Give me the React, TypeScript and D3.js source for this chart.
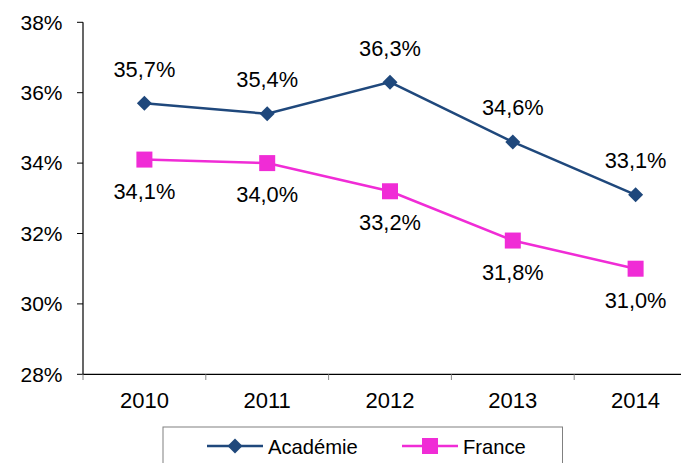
import React from "react";
import * as d3 from "d3";

const years = ["2010", "2011", "2012", "2013", "2014"];
const academie = [35.7, 35.4, 36.3, 34.6, 33.1];
const france = [34.1, 34.0, 33.2, 31.8, 31.0];
const yTicks = [28, 30, 32, 34, 36, 38];
const seriesNames = ["Académie", "France"];

const W = 681;
const H = 463;
const FONT = "'Liberation Sans', Arial, sans-serif";
const BLUE = "#1F487C";
const PINK = "#F02CD6";

export default function App() {
  const x = d3.scaleBand<string>().domain(years).range([83, 697]);
  const y = d3.scaleLinear().domain([28, 38]).range([374.3, 22.3]);
  const cx = (d: string) => (x(d) as number) + x.bandwidth() / 2;
  const line = d3
    .line<number>()
    .x((_, i) => cx(years[i]))
    .y((v) => y(v));
  const fmt = (v: number) => v.toFixed(1).replace(".", ",") + "%";
  const diamond = (px: number, py: number, r: number) =>
    `M${px},${py - r}L${px + r},${py}L${px},${py + r}L${px - r},${py}Z`;

  return (
    <svg
      width={W}
      height={H}
      style={{ position: "absolute", left: 0, top: 0, background: "#fff" }}
      fontFamily={FONT}
    >
      {/* y axis */}
      <line x1={83} x2={83} y1={22.3} y2={374.3} stroke="#000" strokeWidth={1.2} />
      {yTicks.map((t) => (
        <g key={t}>
          <line x1={77} x2={83} y1={y(t)} y2={y(t)} stroke="#000" strokeWidth={1} />
          <text x={62.5} y={y(t) + 7.3} textAnchor="end" fontSize={21} fill="#000">
            {t}%
          </text>
        </g>
      ))}
      {/* x axis */}
      <line x1={83} x2={697} y1={374.3} y2={374.3} stroke="#000" strokeWidth={1.2} />
      {years.map((yr) => (
        <line
          key={"t" + yr}
          x1={x(yr) as number}
          x2={x(yr) as number}
          y1={374.3}
          y2={380}
          stroke="#888"
          strokeWidth={1}
        />
      ))}
      {years.map((yr) => (
        <text key={"l" + yr} x={cx(yr)} y={408} textAnchor="middle" fontSize={22} fill="#000">
          {yr}
        </text>
      ))}

      {/* series lines */}
      <path d={line(academie) || ""} fill="none" stroke={BLUE} strokeWidth={2.5} />
      <path d={line(france) || ""} fill="none" stroke={PINK} strokeWidth={2.5} />

      {academie.map((v, i) => (
        <path key={"da" + i} d={diamond(cx(years[i]), y(v), 7.5)} fill={BLUE} />
      ))}
      {france.map((v, i) => (
        <rect
          key={"sf" + i}
          x={cx(years[i]) - 8}
          y={y(v) - 8}
          width={16}
          height={16}
          fill={PINK}
        />
      ))}

      {academie.map((v, i) => (
        <text
          key={"ta" + i}
          x={cx(years[i])}
          y={y(v) - 26.5}
          textAnchor="middle"
          fontSize={21.8}
          fill="#000"
        >
          {fmt(v)}
        </text>
      ))}
      {france.map((v, i) => (
        <text
          key={"tf" + i}
          x={cx(years[i])}
          y={y(v) + 39}
          textAnchor="middle"
          fontSize={21.8}
          fill="#000"
        >
          {fmt(v)}
        </text>
      ))}

      {/* legend */}
      <rect x={163} y={427} width={399.5} height={50} fill="#fff" stroke="#808080" strokeWidth={1} />
      <line x1={207} x2={263} y1={446} y2={446} stroke={BLUE} strokeWidth={2.5} />
      <path d={diamond(235, 446, 7.5)} fill={BLUE} />
      <text x={268} y={453.5} fontSize={20.2} fill="#000">
        {seriesNames[0]}
      </text>
      <line x1={402} x2={458} y1={446} y2={446} stroke={PINK} strokeWidth={2.5} />
      <rect x={422} y={438} width={16} height={16} fill={PINK} />
      <text x={463} y={453.5} fontSize={20.2} fill="#000">
        {seriesNames[1]}
      </text>
    </svg>
  );
}
